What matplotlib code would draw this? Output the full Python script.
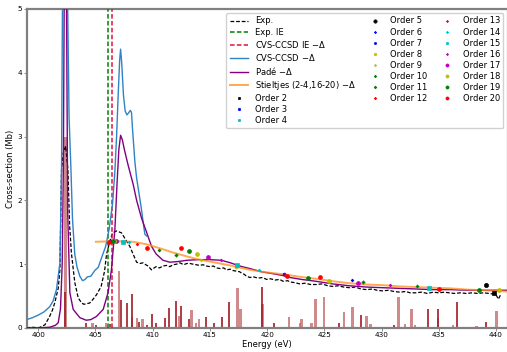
import numpy as np
import matplotlib
matplotlib.use("Agg")
import matplotlib.pyplot as plt

# experimental spectrum (eV, Mb)
exp_e = [399.0, 399.5, 400.0, 400.3, 400.6, 401.0, 401.25, 401.46, 401.75, 401.9, 402.04, 402.2,
         402.4, 402.6, 402.75, 402.9, 403.2, 403.5, 403.8, 404.0, 404.25, 404.5, 404.8, 405.1,
         405.5, 405.8, 405.97, 406.26, 406.5, 406.85, 407.28, 407.72, 408.0, 408.24, 408.6,
         408.9, 409.17, 409.4, 409.6, 409.9, 410.05, 410.3, 410.6, 410.9, 411.2, 411.5, 411.8,
         412.1, 412.4, 412.7, 413.0, 413.25, 413.5, 413.8, 414.1, 414.4, 414.7, 415.0, 415.3,
         415.6, 415.9, 416.2, 416.45, 416.8, 417.0, 417.3, 417.6, 417.76, 418.0, 418.2, 418.5,
         418.8, 419.2, 419.6, 419.95, 420.3, 420.7, 421.1, 421.4, 421.8, 422.0, 422.4, 422.85,
         423.3, 423.8, 424.3, 424.8, 425.3, 425.76, 426.2, 426.7, 427.2, 427.7, 428.2, 428.7,
         429.2, 429.6, 430.1, 430.6, 431.1, 431.6, 432.1, 432.5, 433.0, 433.5, 434.0, 434.5,
         435.0, 435.5, 435.9, 436.4, 436.9, 437.4, 437.9, 438.4, 438.9, 439.4, 439.8, 440.0,
         440.2, 440.4]
exp_y = [0.0, 0.01, 0.0, 0.02, 0.05, 0.18, 0.28, 0.4, 0.62, 0.91, 2.48, 2.75,
         2.85, 2.48, 1.6, 1.18, 0.71, 0.47, 0.39, 0.37, 0.38, 0.39, 0.45, 0.52,
         0.65, 0.89, 1.15, 1.36, 1.49, 1.52, 1.49, 1.36, 1.28, 1.18, 1.03,
         1.01, 1.02, 0.99, 0.97, 0.91, 0.93, 0.96, 0.94, 0.97, 0.98, 0.96, 0.99,
         1.0, 1.02, 0.99, 1.01, 1.01, 1.0, 0.99, 0.98, 0.99, 0.97, 0.96, 0.97,
         0.94, 0.93, 0.94, 0.91, 0.92, 0.9, 0.89, 0.88, 0.86, 0.84, 0.81, 0.79,
         0.8, 0.78, 0.79, 0.76, 0.77, 0.75, 0.76, 0.73, 0.74, 0.72, 0.71, 0.69,
         0.7, 0.68, 0.68, 0.69, 0.66, 0.65, 0.66, 0.64, 0.63, 0.64, 0.61, 0.6,
         0.61, 0.59, 0.58, 0.59, 0.57, 0.56, 0.57, 0.55, 0.55, 0.56, 0.54, 0.56,
         0.55, 0.56, 0.55, 0.54, 0.55, 0.54, 0.55, 0.54, 0.55, 0.54, 0.53, 0.52,
         0.45, 0.52]

exp_ie = 406.12
cvs_ie = 406.47

# CVS-CCSD convoluted spectrum
cvs_e = [399.0, 399.5, 400.0, 400.5, 401.0, 401.3, 401.6, 401.9, 402.04, 402.12, 402.35,
         402.58, 402.7, 402.86, 403.0, 403.2, 403.4, 403.64, 403.88, 404.1, 404.3, 404.6,
         404.95, 405.25, 405.54, 405.9, 406.2, 406.5, 406.7, 406.85, 407.0, 407.12, 407.2,
         407.3, 407.45, 407.6, 407.75, 407.9, 408.05, 408.15, 408.25, 408.45, 408.6, 408.8,
         409.03, 409.2, 409.32, 409.47]
cvs_y = [0.13, 0.16, 0.2, 0.25, 0.33, 0.42, 0.6, 1.02, 2.48, 5.0, 9.0,
         5.0, 3.3, 2.5, 1.7, 1.15, 0.95, 0.81, 0.74, 0.76, 0.8, 0.81,
         0.9, 0.95, 1.1, 1.28, 1.55, 1.95, 2.45, 3.0, 3.7, 4.2, 4.37,
         4.15, 3.65, 3.4, 3.34, 3.37, 3.41, 3.38, 3.1, 2.6, 2.35, 2.12,
         1.85, 1.62, 1.47, 1.44]

# Pade approximant
pade_e = [399.0, 400.0, 401.0, 401.5, 401.75, 401.95, 402.1, 402.2, 402.27, 402.37, 402.48,
          402.58, 402.77, 403.06, 403.64, 404.2, 404.6, 405.1, 405.68, 406.1, 406.4, 406.7,
          406.9, 407.05, 407.2, 407.35, 407.55, 407.86, 408.3, 408.6, 409.03, 409.47, 409.9,
          410.3, 410.9, 411.5, 412.2, 413.0, 414.0, 415.0, 416.0, 416.8, 417.6, 418.5, 419.5,
          420.5, 421.4, 422.0, 423.0, 424.3, 425.7, 427.2, 428.7, 430.1, 431.5, 433.0, 434.5,
          436.0, 437.5, 439.0, 441.0]
pade_y = [0.0, 0.0, 0.01, 0.04, 0.08, 0.3, 1.0, 2.5, 5.0, 9.0, 5.0,
          1.8, 0.55, 0.29, 0.16, 0.12, 0.13, 0.18, 0.29, 0.55, 0.91, 1.54,
          2.3, 2.8, 3.02, 2.95, 2.78, 2.55, 2.25, 2.0, 1.72, 1.5, 1.28,
          1.16, 1.06, 1.03, 1.04, 1.06, 1.07, 1.07, 1.06, 1.02, 0.97, 0.93, 0.88,
          0.85, 0.82, 0.79, 0.76, 0.73, 0.69, 0.66, 0.64, 0.63, 0.62, 0.61, 0.6,
          0.6, 0.59, 0.59, 0.59]

# Stieltjes interpolation
stj_e = [405.04, 406.6, 408.3, 409.5, 410.6, 411.8, 413.0, 414.1, 415.6, 417.0, 418.5,
         420.0, 421.4, 422.9, 424.3, 425.8, 427.2, 428.7, 430.1, 431.6, 433.0, 434.5,
         436.0, 437.5, 439.0, 441.0]
stj_y = [1.35, 1.36, 1.35, 1.31, 1.25, 1.18, 1.12, 1.07, 1.02, 0.97, 0.91,
         0.87, 0.84, 0.8, 0.77, 0.73, 0.7, 0.68, 0.67, 0.65, 0.64, 0.63,
         0.62, 0.6, 0.59, 0.57]

# stick spectrum
stick_dark_e = [402.33, 404.17, 405.04, 406.25, 407.22, 407.77, 408.2, 408.77, 409.47, 409.96,
                410.25, 411.07, 411.44, 412.03, 412.52, 413.19, 414.65, 415.37, 416.02, 416.68,
                419.56, 420.61, 426.29, 428.18, 431.09, 434.06, 434.93, 436.6, 439.16]
stick_dark_h = [0.57, 0.07, 0.04, 0.06, 0.44, 0.39, 0.53, 0.1, 0.05, 0.21,
                0.07, 0.15, 0.31, 0.42, 0.35, 0.14, 0.17, 0.07, 0.17, 0.4,
                0.64, 0.07, 0.07, 0.2, 0.04, 0.3, 0.3, 0.4, 0.1]
stick_light_e = [402.4, 404.75, 405.9, 407.07, 408.2, 408.65, 409.12, 412.31, 413.4, 413.77,
                 414.06, 417.41, 417.68, 419.6, 421.9, 422.86, 423.0, 423.88, 424.23, 424.6,
                 424.95, 426.7, 427.46, 428.68, 429.03, 431.48, 432.03, 432.61, 432.9, 434.93,
                 436.24, 438.3, 440.03]
stick_light_h = [3.0, 0.08, 0.08, 0.89, 0.17, 0.15, 0.14, 0.18, 0.28, 0.07,
                 0.14, 0.63, 0.3, 0.37, 0.17, 0.08, 0.14, 0.08, 0.45, 0.02,
                 0.48, 0.25, 0.33, 0.18, 0.06, 0.49, 0.06, 0.3, 0.05, 0.15,
                 0.05, 0.03, 0.26]

# Stieltjes points for each order: (energy, cross-section)
orders = [2, 3, 4, 5, 6, 7, 8, 9, 10, 11, 12, 13, 14, 15, 16, 17, 18, 19, 20]
order_pts = {
    2: [(439.8, 0.55)],
    3: [(406.4, 1.36)],
    4: [(406.9, 1.36)],
    5: [(439.16, 0.67)],
    6: [(427.42, 0.75)],
    7: [(421.46, 0.85)],
    8: [(417.3, 0.96)],
    9: [(414.2, 1.06)],
    10: [(410.57, 1.22), (433.1, 0.65)],
    11: [(412.0, 1.15), (428.4, 0.72)],
    12: [(421.6, 0.83)],
    13: [(408.6, 1.31)],
    14: [(407.9, 1.35), (419.3, 0.91)],
    15: [(407.4, 1.35), (417.4, 0.99), (434.15, 0.63)],
    16: [(416.0, 1.06), (430.7, 0.67)],
    17: [(406.8, 1.37), (414.85, 1.11), (427.9, 0.70)],
    18: [(406.6, 1.37), (413.9, 1.16), (425.4, 0.74), (440.3, 0.59)],
    19: [(406.5, 1.37), (413.2, 1.2), (423.53, 0.78), (438.5, 0.59)],
    20: [(406.2, 1.35), (409.47, 1.26), (412.46, 1.25), (421.7, 0.82), (424.66, 0.79), (435.0, 0.61)],
}
# color, marker, size
order_style = {
    2: ('k', 's', 2.4), 3: ('b', 'o', 2.2), 4: ('c', 'o', 2.2), 5: ('k', 'o', 3.0),
    6: ('b', 'P', 1.8), 7: ('b', 'o', 2.0), 8: ('y', 'o', 2.2), 9: ('y', 'P', 1.8),
    10: ('g', 'P', 2.0), 11: ('g', 'P', 2.2), 12: ('r', 'P', 2.0), 13: ('r', 'P', 1.8),
    14: ('c', 'P', 1.8), 15: ('c', 's', 2.2), 16: ('m', 'P', 1.8), 17: ('m', 'o', 2.8),
    18: ('y', 'o', 2.8), 19: ('g', 'o', 2.8), 20: ('r', 'o', 2.8),
}

fig = plt.figure(figsize=(5.07, 3.52), dpi=100)
ax = fig.add_axes([0.0527, 0.0685, 0.9483, 0.906])

ax.bar(stick_light_e, stick_light_h, width=0.2, color='#c06464', alpha=0.75, zorder=1)
ax.vlines(stick_dark_e, 0, stick_dark_h, color='#a01c24', lw=1.2, zorder=1)

ax.plot(exp_e, exp_y, color='k', ls=(0, (3, 1.5)), lw=0.9, label='Exp.', zorder=3)
ax.axvline(exp_ie, color='green', ls=(0, (3, 1.5)), lw=1.1, label='Exp. IE', zorder=3)
ax.axvline(cvs_ie, color='crimson', ls=(0, (3, 1.5)), lw=1.1, label=r'CVS-CCSD IE $-\Delta$', zorder=3)
ax.plot(cvs_e, cvs_y, color='#2f83c4', lw=1.0, label=r'CVS-CCSD $-\Delta$', zorder=4)
ax.plot(pade_e, pade_y, color='purple', lw=1.0, label=r'Padé $-\Delta$', zorder=4)
ax.plot(stj_e, stj_y, color='#ff8c1a', lw=1.4, alpha=0.75,
        label=r'Stieltjes (2-4,16-20) $-\Delta$', zorder=4)

for n in orders:
    col, mk, ms = order_style[n]
    pts = order_pts[n]
    ax.plot([p[0] for p in pts], [p[1] for p in pts], ls='', color=col, marker=mk,
            markersize=ms, markeredgewidth=0.5, label='Order %d' % n, zorder=5)

ax.set_xlim(399, 441)
ax.set_ylim(0, 5)
ax.set_xticks(np.arange(400, 441, 5))
ax.set_yticks(np.arange(0, 6, 1))
ax.tick_params(labelsize=5.2, length=2, width=0.6, pad=1.2, color='#777777')
for s in ax.spines.values():
    s.set_color('#808080')
    s.set_linewidth(1.6)

ax.set_xlabel('Energy (eV)', fontsize=6, labelpad=1)
ax.set_ylabel('Cross-section (Mb)', fontsize=6, labelpad=2)

ax.legend(loc='upper right', ncol=3, fontsize=6, handlelength=2.2, labelspacing=0.25,
          columnspacing=1.2, borderaxespad=0.5, framealpha=0.9, borderpad=0.4,
          markerscale=0.8)

fig.savefig('out.png', dpi=100)
